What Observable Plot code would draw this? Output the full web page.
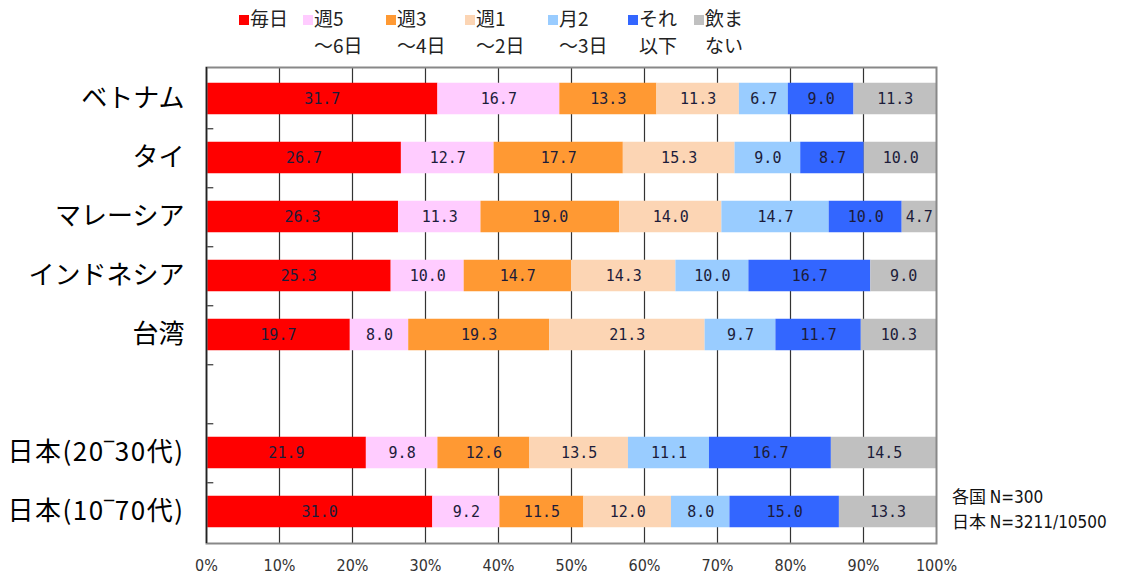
<!DOCTYPE html>
<html>
<head>
<meta charset="utf-8">
<script src="https://cdn.jsdelivr.net/npm/d3@7"></script>
<script src="https://cdn.jsdelivr.net/npm/@observablehq/plot@0.6"></script>
<style>
  html, body { margin: 0; padding: 0; background: #fff; }
  #wrap { position: relative; width: 1128px; height: 575px; overflow: hidden; font-family: "Noto Sans CJK JP", sans-serif; }
  #chart { position: absolute; left: 0; top: 0; }
  .leg { position: absolute; top: 4px; font-size: 19px; line-height: 27px; color: #222; }
  .leg .sw { display: inline-block; width: 10px; height: 10px; margin-right: 1px; vertical-align: 1px; }
  .leg .l2 { padding-left: 11px; }
  #note { position: absolute; left: 952px; top: 484px; font-size: 17px; line-height: 23px; color: #111; font-family: "Noto Sans CJK JP", sans-serif; }
  #note span { font-family: "DejaVu Sans", sans-serif; font-stretch: condensed; }
</style>
</head>
<body>
<div id="wrap">
  <div id="chart"></div>
  <div id="note"></div>
</div>
<script>
// ---- data ----
const groups = ["ベトナム", "タイ", "マレーシア", "インドネシア", "台湾", " ", "日本(20‾30代)", "日本(10‾70代)"];
const categories = ["毎日", "週5～6日", "週3～4日", "週1～2日", "月2～3日", "それ以下", "飲まない"];
const legendLine1 = ["毎日", "週5", "週3", "週1", "月2", "それ", "飲ま"];
const legendLine2 = ["", "～6日", "～4日", "～2日", "～3日", "以下", "ない"];
const colors = ["#FF0000", "#FFCCFF", "#FF9933", "#FCD5B4", "#99CCFF", "#3366FF", "#C0C0C0"];
const vietnam   = [31.7, 16.7, 13.3, 11.3, 6.7, 9.0, 11.3];
const thailand  = [26.7, 12.7, 17.7, 15.3, 9.0, 8.7, 10.0];
const malaysia  = [26.3, 11.3, 19.0, 14.0, 14.7, 10.0, 4.7];
const indonesia = [25.3, 10.0, 14.7, 14.3, 10.0, 16.7, 9.0];
const taiwan    = [19.7, 8.0, 19.3, 21.3, 9.7, 11.7, 10.3];
const japan2030 = [21.9, 9.8, 12.6, 13.5, 11.1, 16.7, 14.5];
const japan1070 = [31.0, 9.2, 11.5, 12.0, 8.0, 15.0, 13.3];
const xTicks = [0, 10, 20, 30, 40, 50, 60, 70, 80, 90, 100];
const noteLabels = ["各国", "日本"];
const noteValues = ["N=300", "N=3211/10500"];

const series = {
  "ベトナム": vietnam, "タイ": thailand, "マレーシア": malaysia, "インドネシア": indonesia,
  "台湾": taiwan, "日本(20‾30代)": japan2030, "日本(10‾70代)": japan1070
};
const table = [];
for (const g of groups) {
  const vals = series[g];
  if (!vals) continue;
  vals.forEach((v, i) => table.push({group: g, cat: categories[i], value: v}));
}
const boundaries = groups.slice(0, groups.length - 1);

const plotTop = 67, plotBottom = 543;
const step = (plotBottom - plotTop) / groups.length;
const inset = (step - 32) / 2;

const plot = Plot.plot({
  width: 1128,
  height: 575,
  marginLeft: 206,
  marginRight: 192,
  marginTop: plotTop,
  marginBottom: 575 - plotBottom,
  style: { background: "transparent" },
  x: { domain: [0, 100], ticks: xTicks, tickFormat: d => d + "%", label: null, tickSize: 0, tickPadding: 16 },
  y: { domain: groups, padding: 0, label: null, tickSize: 0, tickPadding: 22 },
  color: { domain: categories, range: colors },
  marks: [
    Plot.ruleX(xTicks.slice(1, -1), { stroke: "#333", strokeWidth: 1.2 }),
    Plot.barX(table, Plot.stackX({ x: "value", y: "group", fill: "cat", order: categories, insetTop: inset, insetBottom: inset })),
    Plot.text(table, Plot.stackX({ x: "value", y: "group", z: "cat", order: categories,
      text: d => d.value.toFixed(1), fill: "#1c1c3a", fontSize: 15, fontFamily: "DejaVu Sans Mono, monospace" })),
    Plot.ruleY(boundaries, { y: d => d, x1: 0, x2: 1, dy: step / 2, stroke: "#333", strokeWidth: 1.2 }),
    Plot.frame({ stroke: "#888", strokeWidth: 2 }),
    Plot.ruleX([0], { stroke: "#222", strokeWidth: 1.5 })
  ]
});
plot.style.overflow = "visible";
d3.select(plot).selectAll("[aria-label='y-axis tick label'] text")
  .style("font-size", "26px").style("font-family", "'Noto Sans CJK JP', sans-serif").style("fill", "#000")
  .filter(function() { return this.textContent.startsWith("日本"); })
  .style("letter-spacing", "1.5px");
d3.select(plot).selectAll("[aria-label='x-axis tick label'] text")
  .style("font-size", "16px").style("font-family", "'DejaVu Sans', sans-serif").style("font-stretch", "condensed").style("fill", "#333");
document.getElementById("chart").appendChild(plot);

// legend
const legendLeft = [239, 303, 386, 465, 548, 628, 694];
const wrap = document.getElementById("wrap");
categories.forEach((c, i) => {
  const div = document.createElement("div");
  div.className = "leg";
  div.style.left = legendLeft[i] + "px";
  div.innerHTML = `<div><span class="sw" style="background:${colors[i]}"></span>${legendLine1[i]}</div>` +
    (legendLine2[i] ? `<div class="l2">${legendLine2[i]}</div>` : "");
  wrap.appendChild(div);
});
document.getElementById("note").innerHTML = noteLabels.map((s, i) => `<div>${s} <span>${noteValues[i]}</span></div>`).join("");
</script>
</body>
</html>
